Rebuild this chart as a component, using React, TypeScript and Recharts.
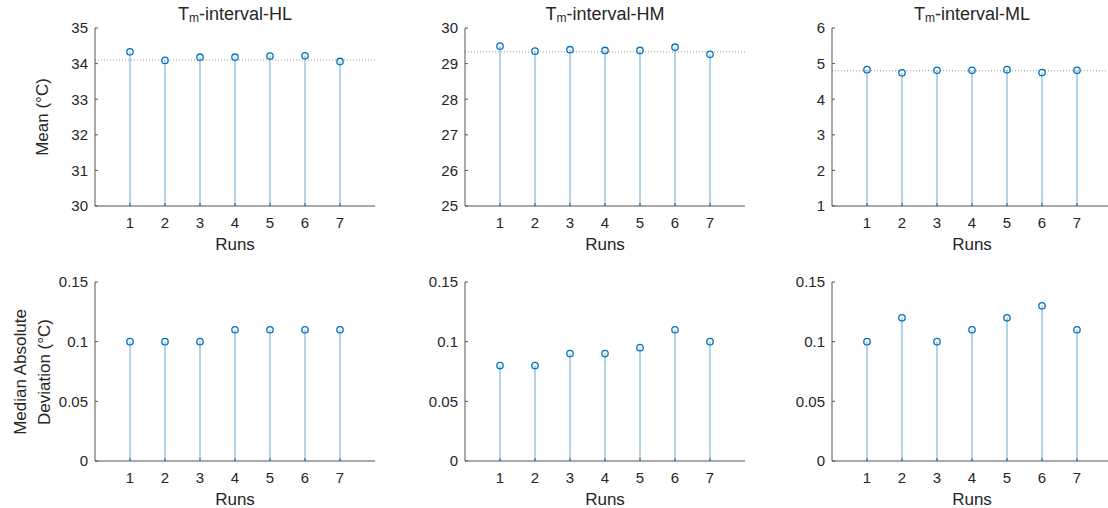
import React from "react";
import { ComposedChart, Bar, Scatter, XAxis, YAxis, ReferenceLine } from "recharts";

const runs = [1, 2, 3, 4, 5, 6, 7];
const xTicks = [1, 2, 3, 4, 5, 6, 7];

const titles = ["HL", "HM", "ML"];

const meanHL = [34.33, 34.09, 34.18, 34.18, 34.21, 34.22, 34.06];
const meanHM = [29.49, 29.35, 29.39, 29.37, 29.37, 29.46, 29.26];
const meanML = [4.83, 4.74, 4.81, 4.81, 4.83, 4.75, 4.81];
const refMean = [34.1, 29.33, 4.8];

const madHL = [0.1, 0.1, 0.1, 0.11, 0.11, 0.11, 0.11];
const madHM = [0.08, 0.08, 0.09, 0.09, 0.095, 0.11, 0.1];
const madML = [0.1, 0.12, 0.1, 0.11, 0.12, 0.13, 0.11];

const meanTicks = [
  [30, 31, 32, 33, 34, 35],
  [25, 26, 27, 28, 29, 30],
  [1, 2, 3, 4, 5, 6],
];
const madTicks = [0, 0.05, 0.1, 0.15];

const FONT = '"Liberation Sans", Arial, sans-serif';
const INK = "#262626";
const BLUE = "#0072BD";
const axisX = [95, 465, 832];
const PLOT_W = 280;

const rows = (vals: number[]) => runs.map((r, i) => ({ run: r, value: vals[i] }));

function Circle(p: any) {
  return <circle cx={p.cx} cy={p.cy} r={3.2} fill="none" stroke={BLUE} strokeWidth={1.3} />;
}

function Panel({
  col,
  top,
  plotH,
  data,
  ticks,
  refY,
}: {
  col: number;
  top: number;
  plotH: number;
  data: { run: number; value: number }[];
  ticks: number[];
  refY?: number;
}) {
  const yw = col === 0 ? 95 : 60;
  const left = axisX[col] - yw;
  const marginTop = 28;
  const xh = 50;
  const w = yw + PLOT_W + 4;
  const h = marginTop + plotH + xh;
  return (
    <div style={{ position: "absolute", left, top }}>
      <ComposedChart width={w} height={h} data={data} margin={{ top: marginTop, right: 4, bottom: 0, left: 0 }}>
        <XAxis
          dataKey="run"
          type="number"
          domain={[0, 8]}
          ticks={xTicks}
          height={xh}
          stroke="#555"
          tickSize={-3}
          tickMargin={14}
          tick={{ fill: INK, fontSize: 15, fontFamily: FONT }}
          label={{ value: "Runs", position: "insideBottom", offset: 6, fill: INK, fontSize: 17, fontFamily: FONT }}
        />
        <YAxis
          type="number"
          domain={[ticks[0], ticks[ticks.length - 1]]}
          ticks={ticks}
          allowDataOverflow
          width={yw}
          stroke="#555"
          tickSize={-3}
          tickMargin={10}
          tick={{ fill: INK, fontSize: 15, fontFamily: FONT }}
        />
        {refY !== undefined && (
          <ReferenceLine y={refY} stroke="#9a9a9a" strokeWidth={1} strokeDasharray="1 2" />
        )}
        <Bar dataKey="value" barSize={1} fill={BLUE} fillOpacity={0.6} isAnimationActive={false} />
        <Scatter dataKey="value" shape={Circle} isAnimationActive={false} />
      </ComposedChart>
    </div>
  );
}

export default function App() {
  const means = [meanHL, meanHM, meanML];
  const mads = [madHL, madHM, madML];
  return (
    <div
      style={{
        position: "absolute",
        left: 0,
        top: 0,
        width: 1108,
        height: 508,
        overflow: "hidden",
        background: "#fff",
        fontFamily: FONT,
        color: INK,
      }}
    >
      {titles.map((t, i) => (
        <div
          key={t}
          style={{
            position: "absolute",
            left: axisX[i] + PLOT_W / 2,
            top: 14,
            transform: "translate(-50%, -50%)",
            fontSize: 18,
            whiteSpace: "nowrap",
          }}
        >
          T<span style={{ fontSize: 12, position: "relative", top: 2 }}>m</span>-interval-{t}
        </div>
      ))}
      {means.map((m, i) => (
        <Panel key={"m" + i} col={i} top={0} plotH={178} data={rows(m)} ticks={meanTicks[i]} refY={refMean[i]} />
      ))}
      {mads.map((m, i) => (
        <Panel key={"d" + i} col={i} top={254} plotH={179} data={rows(m)} ticks={madTicks} />
      ))}
      <div
        style={{
          position: "absolute",
          left: 43,
          top: 117,
          transform: "translate(-50%, -50%) rotate(-90deg)",
          fontSize: 17,
          whiteSpace: "nowrap",
        }}
      >
        Mean (°C)
      </div>
      <div
        style={{
          position: "absolute",
          left: 33,
          top: 372,
          transform: "translate(-50%, -50%) rotate(-90deg)",
          fontSize: 17,
          lineHeight: "24px",
          textAlign: "center",
          whiteSpace: "nowrap",
        }}
      >
        Median Absolute
        <br />
        Deviation (°C)
      </div>
    </div>
  );
}
